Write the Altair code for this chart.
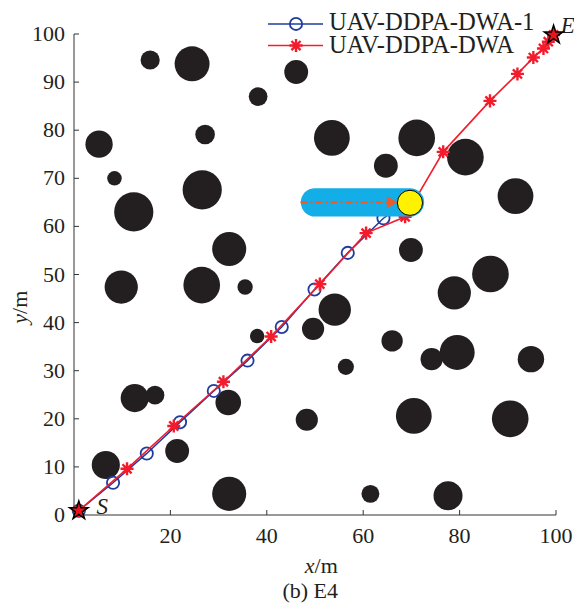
import math
import altair as alt
import pandas as pd

# ---------------- data ----------------
obs_x = [15.8, 24.5, 46.1, 38.2, 5.2, 27.2, 53.5, 71.1, 64.7, 81.2, 91.6, 8.4, 12.4, 26.6,
         32.2, 9.8, 26.5, 35.5, 69.9, 78.9, 86.4, 54.1, 49.6, 66.0, 56.4, 74.2, 79.5, 94.8,
         48.3, 70.5, 90.5, 61.5, 77.6, 6.6, 12.6, 16.8, 21.4, 32.2, 32.0, 38.0]
obs_y = [94.6, 93.8, 92.1, 87.0, 77.1, 79.1, 78.4, 78.4, 72.6, 74.4, 66.3, 70.0, 63.0, 67.6,
         55.3, 47.4, 47.8, 47.4, 55.1, 46.2, 50.1, 42.7, 38.7, 36.2, 30.8, 32.4, 33.8, 32.4,
         19.8, 20.6, 20.0, 4.4, 4.0, 10.4, 24.3, 24.9, 13.3, 4.4, 23.4, 37.2]
obs_r = [2.25, 4.1, 2.8, 2.2, 3.2, 2.3, 4.2, 4.3, 2.8, 4.3, 4.2, 1.7, 4.6, 4.6,
         4.0, 3.9, 4.3, 1.8, 2.8, 3.9, 4.3, 3.8, 2.6, 2.5, 1.9, 2.6, 4.1, 3.1,
         2.6, 4.2, 4.3, 2.1, 3.4, 3.3, 3.3, 2.2, 2.8, 4.0, 3.0, 1.7]

blue_x = [1.0, 8.1, 15.1, 22.0, 29.0, 36.0, 43.1, 49.9, 56.8, 64.2, 68.0]
blue_y = [0.9, 6.7, 12.8, 19.3, 25.8, 32.1, 39.1, 46.9, 54.5, 61.7, 64.3]

red_x = [1.0, 11.0, 20.7, 31.0, 40.9, 51.0, 60.6, 68.7, 76.6, 86.3, 92.0, 95.3, 97.4, 98.4, 99.5]
red_y = [0.9, 9.6, 18.5, 27.7, 37.1, 48.0, 58.6, 62.0, 75.5, 86.1, 91.7, 95.1, 97.0, 98.4, 99.8]

trail_x = [50.0, 69.7]
trail_y = [65.0, 65.0]
arrow_x = [47.0, 66.3]
arrow_y = [65.0, 65.0]
head_x = [66.0]
head_y = [65.0]
mover_x = [69.7]
mover_y = [64.9]
mover_r = [2.95]

se_x = [1.0, 99.5]
se_y = [0.9, 99.8]

x_ticks = [20, 40, 60, 80, 100]
y_ticks = [0, 10, 20, 30, 40, 50, 60, 70, 80, 90, 100]

legend_labels = ["UAV-DDPA-DWA-1", "UAV-DDPA-DWA"]

# ---------------- styling / layout ----------------
W, H = 482, 481
PX = H / 100.0          # pixels per data unit
FONT = "Liberation Serif"
INK = "#231f20"
AXC = "#333333"
BLUE = "#1f3d9e"
RED = "#f41c2c"
CYAN = "#13aee8"
YELLOW = "#fff200"
ARROW = "#f05a28"
RMAX = 5.0
TICK = 5 / PX           # tick length in data units

XS = alt.Scale(domain=[0, 100], nice=False, zero=False)
YS = alt.Scale(domain=[0, 100], nice=False, zero=False)
SS = alt.Scale(type="pow", exponent=2, domain=[0, RMAX], range=[0, math.pi * (RMAX * PX) ** 2])


def X(f="x"):
    return alt.X(f + ":Q", scale=XS, axis=None)


def Y(f="y"):
    return alt.Y(f + ":Q", scale=YS, axis=None)


def X2(f="x2"):
    return alt.X2(f + ":Q")


def Y2(f="y2"):
    return alt.Y2(f + ":Q")


obs_df = pd.DataFrame({"x": obs_x, "y": obs_y, "r": obs_r})
blue_df = pd.DataFrame({"x": blue_x, "y": blue_y, "i": range(len(blue_x))})
red_df = pd.DataFrame({"x": red_x, "y": red_y, "i": range(len(red_x))})
trail_df = pd.DataFrame({"x": trail_x, "y": trail_y})
arrow_df = pd.DataFrame({"x": arrow_x, "y": arrow_y})
head_df = pd.DataFrame({"x": head_x, "y": head_y})
mover_df = pd.DataFrame({"x": mover_x, "y": mover_y, "r": mover_r})
se_df = pd.DataFrame({"x": se_x, "y": se_y})

ASTERISK = "M-1,0L1,0M0,-1L0,1M-0.7,-0.7L0.7,0.7M-0.7,0.7L0.7,-0.7"
STAR5 = ("M0,-1L0.2245,-0.309L0.9511,-0.309L0.3633,0.118L0.5878,0.809L0,0.382"
         "L-0.5878,0.809L-0.3633,0.118L-0.9511,-0.309L-0.2245,-0.309Z")

obstacles = alt.Chart(obs_df).mark_circle(color=INK, opacity=1).encode(
    x=X(), y=Y(), size=alt.Size("r:Q", scale=SS, legend=None))

blue_line = alt.Chart(blue_df).mark_line(color=BLUE, strokeWidth=1.5).encode(
    x=X(), y=Y(), order="i:Q")
blue_pts = alt.Chart(blue_df).mark_point(shape="circle", filled=False, color=BLUE,
                                         strokeWidth=1.8, size=150, opacity=1).encode(x=X(), y=Y())
red_line = alt.Chart(red_df).mark_line(color=RED, strokeWidth=1.6).encode(
    x=X(), y=Y(), order="i:Q")
red_pts = alt.Chart(red_df).mark_point(shape=ASTERISK, filled=False, color=RED,
                                       strokeWidth=2.4, size=170, opacity=1).encode(x=X(), y=Y())

trail = alt.Chart(trail_df).mark_line(color=CYAN, strokeWidth=2 * 2.95 * PX,
                                      strokeCap="round").encode(x=X(), y=Y())
arrow = alt.Chart(arrow_df).mark_line(color=ARROW, strokeWidth=2,
                                      strokeDash=[7, 3, 2, 3]).encode(x=X(), y=Y())
head = alt.Chart(head_df).mark_point(shape="triangle-right", filled=True, color=ARROW,
                                     size=150, opacity=1).encode(x=X(), y=Y())
mover = alt.Chart(mover_df).mark_circle(color=YELLOW, stroke="black", strokeWidth=1,
                                        opacity=1).encode(
    x=X(), y=Y(), size=alt.Size("r:Q", scale=SS, legend=None))

# axes drawn by hand (domain lines, inward ticks, labels)
dom_df = pd.DataFrame({"x": [0, 0], "y": [0, 0], "x2": [100, 0], "y2": [0, 100]})
domain = alt.Chart(dom_df).mark_rule(color=AXC, strokeWidth=1).encode(
    x=X(), y=Y(), x2=X2(), y2=Y2())

xt_df = pd.DataFrame({"x": x_ticks, "y": [0] * len(x_ticks), "y2": [TICK] * len(x_ticks)})
yt_df = pd.DataFrame({"y": y_ticks, "x": [0] * len(y_ticks), "x2": [TICK] * len(y_ticks)})
xticks = alt.Chart(xt_df).mark_rule(color=AXC, strokeWidth=1).encode(x=X(), y=Y(), y2=Y2())
yticks = alt.Chart(yt_df).mark_rule(color=AXC, strokeWidth=1).encode(y=Y(), x=X(), x2=X2())

xl_df = pd.DataFrame({"x": x_ticks, "y": [-5.8] * len(x_ticks), "t": [str(v) for v in x_ticks]})
yl_df = pd.DataFrame({"y": y_ticks, "x": [-1.85] * len(y_ticks), "t": [str(v) for v in y_ticks]})
xlabels = alt.Chart(xl_df).mark_text(font=FONT, fontSize=22, color=INK, align="center",
                                     baseline="alphabetic").encode(x=X(), y=Y(), text="t:N")
ylabels = alt.Chart(yl_df).mark_text(font=FONT, fontSize=22, color=INK, align="right",
                                     baseline="middle").encode(x=X(), y=Y(), text="t:N")

stars = alt.Chart(se_df).mark_point(shape=STAR5, filled=True, fill="#e8151f", stroke="black",
                                    strokeWidth=1.5, size=380, opacity=1).encode(x=X(), y=Y())

# legend (positions in data units, above the plot)
leg_line_df = pd.DataFrame({"x": [40.25, 40.25], "x2": [51.66, 51.66], "y": [102.1, 97.6]})
leg_blue_line = alt.Chart(leg_line_df.iloc[[0]]).mark_rule(strokeWidth=1.5, color=BLUE).encode(
    x=X(), x2=X2(), y=Y())
leg_red_line = alt.Chart(leg_line_df.iloc[[1]]).mark_rule(strokeWidth=1.6, color=RED).encode(
    x=X(), x2=X2(), y=Y())
leg_pt_df = pd.DataFrame({"x": [46.06, 46.06], "y": [102.1, 97.6]})
leg_circle = alt.Chart(leg_pt_df.iloc[[0]]).mark_point(
    shape="circle", filled=False, color=BLUE, strokeWidth=1.8, size=150, opacity=1).encode(
    x=X(), y=Y())
leg_star = alt.Chart(leg_pt_df.iloc[[1]]).mark_point(
    shape=ASTERISK, filled=False, color=RED, strokeWidth=2.4, size=170, opacity=1).encode(
    x=X(), y=Y())
leg_text_df = pd.DataFrame({"x": [52.9, 52.9], "y": [100.85, 96.05], "t": legend_labels})
leg_text = alt.Chart(leg_text_df).mark_text(font=FONT, fontSize=24.6, color=INK, align="left",
                                            baseline="alphabetic").encode(
    x=X(), y=Y(), text="t:N")

# other plain texts
plain_df = pd.DataFrame({"x": [49.9, 49.0], "y": [-12.1, -17.2], "t": ["/m", "(b) E4"]})
eb_text = alt.Chart(plain_df.iloc[[1]]).mark_text(font=FONT, fontSize=22, color=INK,
                                                  baseline="alphabetic", align="center").encode(
    x=X(), y=Y(), text="t:N")
xm_text = alt.Chart(plain_df.iloc[[0]]).mark_text(font=FONT, fontSize=22, color=INK,
                                                  baseline="alphabetic", align="left").encode(
    x=X(), y=Y(), text="t:N")

# italic letters
ital_df = pd.DataFrame({"x": [49.9, 4.65, 101.0], "y": [-12.1, 0.3, 100.3], "t": ["x", "S", "E"]})
x_ital = alt.Chart(ital_df.iloc[[0]]).mark_text(font=FONT, fontSize=22, color=INK, fontStyle="italic",
                                                baseline="alphabetic", align="right").encode(
    x=X(), y=Y(), text="t:N")
se_ital = alt.Chart(ital_df.iloc[[1, 2]]).mark_text(font=FONT, fontSize=23, color=INK,
                                                    fontStyle="italic", baseline="alphabetic",
                                                    align="left").encode(
    x=X(), y=Y(), text="t:N")

# rotated y title
rot_df = pd.DataFrame({"x": [-9.8, -9.8], "y": [41.8, 41.8], "t": ["y", "/m"]})
ym_text = alt.Chart(rot_df.iloc[[1]]).mark_text(font=FONT, fontSize=22, color=INK, angle=270,
                                                baseline="alphabetic", align="left").encode(
    x=X(), y=Y(), text="t:N")
y_ital = alt.Chart(rot_df.iloc[[0]]).mark_text(font=FONT, fontSize=22, color=INK, angle=270,
                                               fontStyle="italic", baseline="alphabetic",
                                               align="right").encode(
    x=X(), y=Y(), text="t:N")

chart = alt.layer(
    obstacles, blue_line, blue_pts, red_line, red_pts,
    trail, arrow, head, mover, domain, xticks, yticks, xlabels, ylabels,
    leg_blue_line, leg_red_line, leg_circle, leg_star, leg_text,
    eb_text, xm_text, ym_text, x_ital, se_ital, y_ital, stars,
).resolve_scale(size="shared").properties(
    width=W, height=H,
    padding={"left": 66, "top": 26, "right": 18, "bottom": 88},
    autosize=alt.AutoSizeParams(type="none"),
).configure_view(stroke=None)

chart.save("out.html", embed_options={"renderer": "svg", "actions": False})
